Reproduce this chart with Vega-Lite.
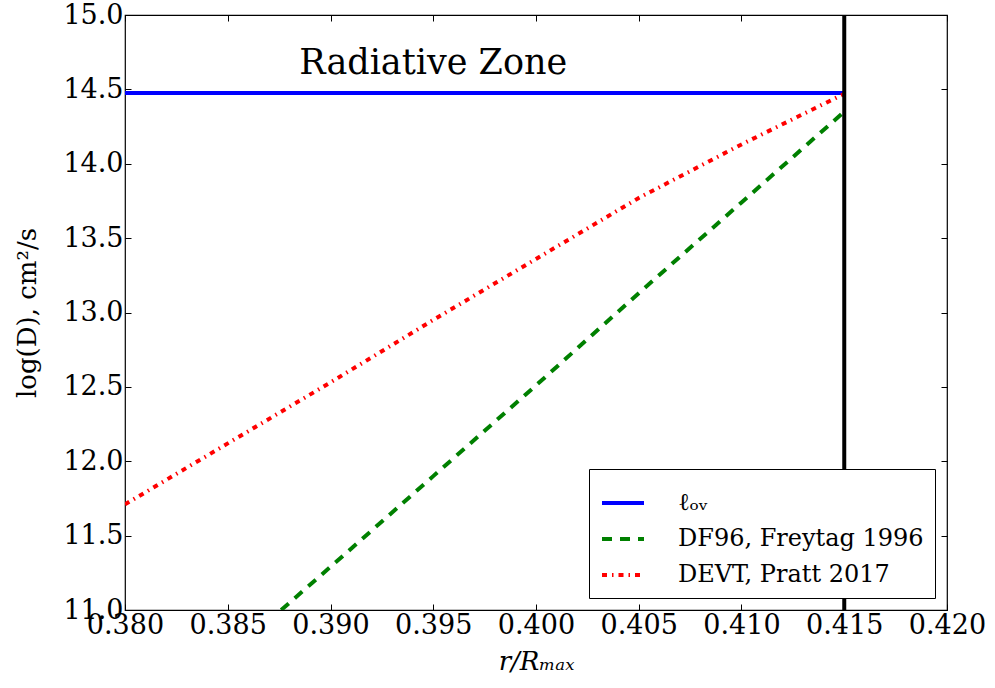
{
  "$schema": "https://vega.github.io/schema/vega-lite/v6.json",
  "autosize": {"type": "none"},
  "width": 822,
  "height": 595,
  "padding": {"left": 125, "top": 15, "right": 48, "bottom": 78},
  "background": "white",
  "config": {
    "font": "DejaVu Serif",
    "view": {"stroke": "black", "strokeWidth": 1.2},
    "axis": {
      "grid": false,
      "domain": false,
      "tickColor": "black",
      "tickSize": -6,
      "labelColor": "black",
      "labelFont": "DejaVu Serif",
      "labelFontSize": 27,
      "labelOverlap": false,
      "labelFlush": false,
      "titleFont": "DejaVu Serif",
      "titleFontSize": 26,
      "titleFontWeight": "normal",
      "titleColor": "black"
    },
    "legend": {
      "orient": "bottom-right",
      "offset": 12,
      "strokeColor": "black",
      "fillColor": "white",
      "padding": 11,
      "rowPadding": 1,
      "labelFont": "DejaVu Serif",
      "labelFontSize": 24,
      "labelColor": "black",
      "labelLimit": 400,
      "labelOffset": 32,
      "symbolType": "stroke",
      "symbolSize": 1764,
      "symbolStrokeWidth": 4,
      "cornerRadius": 0
    }
  },
  "datasets": {
    "curves": [
      {"series": "ℓₒᵥ", "r": 0.380, "logD": 14.475},
      {"series": "ℓₒᵥ", "r": 0.415, "logD": 14.475},
      {"series": "DF96, Freytag 1996", "r": 0.3876, "logD": 11.00},
      {"series": "DF96, Freytag 1996", "r": 0.390, "logD": 11.29},
      {"series": "DF96, Freytag 1996", "r": 0.395, "logD": 11.90},
      {"series": "DF96, Freytag 1996", "r": 0.400, "logD": 12.51},
      {"series": "DF96, Freytag 1996", "r": 0.405, "logD": 13.13},
      {"series": "DF96, Freytag 1996", "r": 0.410, "logD": 13.74},
      {"series": "DF96, Freytag 1996", "r": 0.415, "logD": 14.35},
      {"series": "DEVT, Pratt 2017", "r": 0.380, "logD": 11.71},
      {"series": "DEVT, Pratt 2017", "r": 0.385, "logD": 12.12},
      {"series": "DEVT, Pratt 2017", "r": 0.390, "logD": 12.53},
      {"series": "DEVT, Pratt 2017", "r": 0.395, "logD": 12.95},
      {"series": "DEVT, Pratt 2017", "r": 0.400, "logD": 13.36},
      {"series": "DEVT, Pratt 2017", "r": 0.405, "logD": 13.77},
      {"series": "DEVT, Pratt 2017", "r": 0.410, "logD": 14.13},
      {"series": "DEVT, Pratt 2017", "r": 0.415, "logD": 14.47}
    ],
    "boundary": [{"r": 0.415}],
    "label": [{"r": 0.395, "logD": 14.68, "text": "Radiative Zone"}]
  },
  "layer": [
    {
      "data": {"name": "curves"},
      "mark": {"type": "line", "strokeWidth": 4, "clip": true},
      "encoding": {
        "x": {
          "field": "r", "type": "quantitative",
          "scale": {"domain": [0.38, 0.42], "nice": false, "zero": false},
          "axis": {"orient": "bottom", "format": ".3f", "values": [0.38, 0.385, 0.39, 0.395, 0.4, 0.405, 0.41, 0.415, 0.42], "title": "r/Rₘₐₓ", "titleFontStyle": "italic", "labelPadding": 8, "titlePadding": 10}
        },
        "y": {
          "field": "logD", "type": "quantitative",
          "scale": {"domain": [11, 15], "nice": false, "zero": false},
          "axis": {"orient": "left", "format": ".1f", "values": [11, 11.5, 12, 12.5, 13, 13.5, 14, 14.5, 15], "title": "log(D), cm²/s", "labelPadding": 8, "titlePadding": 22}
        },
        "color": {
          "field": "series", "type": "nominal",
          "scale": {"domain": ["ℓₒᵥ", "DF96, Freytag 1996", "DEVT, Pratt 2017"], "range": ["#0000ff", "#008000", "#ff0000"]},
          "legend": {"title": null}
        },
        "strokeDash": {
          "field": "series", "type": "nominal",
          "scale": {"domain": ["ℓₒᵥ", "DF96, Freytag 1996", "DEVT, Pratt 2017"], "range": [[1, 0], [10, 8], [5, 5, 1.5, 5]]},
          "legend": {"title": null}
        },
        "order": {"field": "r", "type": "quantitative"}
      }
    },
    {
      "data": {"name": "boundary"},
      "mark": {"type": "rule", "color": "black", "strokeWidth": 4},
      "encoding": {
        "x": {"field": "r", "type": "quantitative", "axis": null}
      }
    },
    {
      "data": {"name": "label"},
      "mark": {"type": "text", "font": "DejaVu Serif", "fontSize": 35, "color": "black", "align": "center", "baseline": "middle"},
      "encoding": {
        "x": {"field": "r", "type": "quantitative",
          "axis": {"orient": "top", "labels": false, "title": null, "values": [0.38, 0.385, 0.39, 0.395, 0.4, 0.405, 0.41, 0.415, 0.42]}},
        "y": {"field": "logD", "type": "quantitative",
          "axis": {"orient": "right", "labels": false, "title": null, "values": [11, 11.5, 12, 12.5, 13, 13.5, 14, 14.5, 15]}},
        "text": {"field": "text"}
      }
    }
  ],
  "resolve": {"axis": {"x": "independent", "y": "independent"}}
}
